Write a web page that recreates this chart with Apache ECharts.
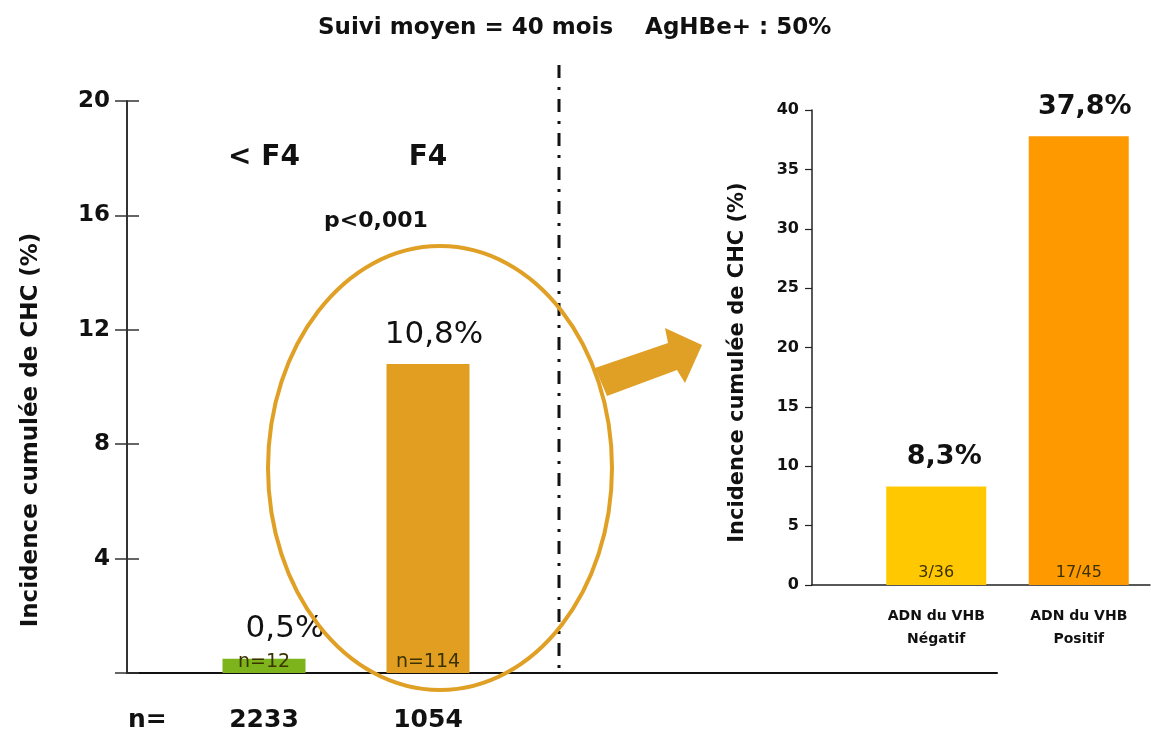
<!DOCTYPE html>
<html>
<head>
<meta charset="utf-8">
<script src="https://cdn.jsdelivr.net/npm/echarts@6/dist/echarts.min.js"></script>
<style>
  html, body { margin: 0; padding: 0; background: #fff; }
  #chart { width: 1151px; height: 733px; }
</style>
</head>
<body>
<div id="chart"></div>
<script>
// ---- data ----
const titleText = 'Suivi moyen = 40 mois    AgHBe+ : 50%';
const leftCategories = ['< F4', 'F4'];
const leftValues = [0.5, 10.8];
const leftCases = ['n=12', 'n=114'];
const leftTotals = ['2233', '1054'];
const leftAxisMin = 0, leftAxisMax = 20, leftAxisStep = 4;
const rightCategories = ['Négatif', 'Positif'];
const rightValues = [8.3, 37.8];
const rightCases = ['3/36', '17/45'];
const rightAxisMin = 0, rightAxisMax = 40, rightAxisStep = 5;
const axisTitle = 'Incidence cumulée de CHC (%)';
const pValueText = 'p<0,001';
const nLabel = 'n=';

// ---- styles ----
const FONT = 'DejaVu Sans';
const leftColors = ['#7DB41B', '#E19E20'];
const rightColors = ['#FFC800', '#FF9900'];
const pct = v => String(v).replace('.', ',') + '%';

const chart = echarts.init(document.getElementById('chart'), null, { renderer: 'canvas' });

const option = {
  backgroundColor: '#ffffff',
  animation: false,
  textStyle: { fontFamily: FONT },
  title: {
    text: titleText,
    left: 313, top: 12,
    textStyle: { fontFamily: FONT, fontSize: 23, fontWeight: 'bold', color: '#111' }
  },
  grid: [
    { left: 127, top: 101, width: 870, height: 572 },   // left axes frame
    { left: 182, top: 101, width: 328, height: 572 },   // left bars
    { left: 812, top: 110, width: 338, height: 475 },   // right axes frame
    { left: 865, top: 110, width: 285, height: 475 }    // right bars
  ],
  xAxis: [
    { gridIndex: 0, type: 'category', data: [''],
      axisLine: { lineStyle: { color: '#111', width: 2 } },
      axisTick: { show: false }, axisLabel: { show: false } },
    { gridIndex: 1, type: 'category', data: leftCategories, position: 'bottom',
      axisLine: { show: false }, axisTick: { show: false },
      axisLabel: { formatter: (v, i) => leftTotals[i], margin: 35,
        fontFamily: FONT, fontSize: 25, fontWeight: 'bold', color: '#111' } },
    { gridIndex: 1, type: 'category', data: leftCategories, position: 'top',
      axisLine: { show: false }, axisTick: { show: false },
      axisLabel: { inside: true, margin: 43,
        fontFamily: FONT, fontSize: 28, fontWeight: 'bold', color: '#111' } },
    { gridIndex: 2, type: 'category', data: [''],
      axisLine: { lineStyle: { color: '#222', width: 1.5 } },
      axisTick: { show: false }, axisLabel: { show: false } },
    { gridIndex: 3, type: 'category', data: rightCategories,
      axisLine: { show: false }, axisTick: { show: false },
      axisLabel: { formatter: v => 'ADN du VHB\n' + v, margin: 20, lineHeight: 23,
        fontFamily: FONT, fontSize: 14, fontWeight: 'bold', color: '#111' } }
  ],
  yAxis: [
    { gridIndex: 0, type: 'value', min: leftAxisMin, max: leftAxisMax, interval: leftAxisStep,
      splitLine: { show: false },
      axisLine: { show: true, lineStyle: { color: '#333', width: 2 } },
      axisTick: { show: true, length: 12, lineStyle: { color: '#333', width: 1.5 } },
      axisLabel: { formatter: v => v === 0 ? '' : v, margin: 17,
        fontFamily: FONT, fontSize: 23, fontWeight: 'bold', color: '#111' },
      name: axisTitle, nameLocation: 'middle', nameGap: 84,
      nameTextStyle: { fontFamily: FONT, fontSize: 23, fontWeight: 'bold', color: '#111',
        padding: [0, 86, 0, 0] } },
    { gridIndex: 1, type: 'value', min: leftAxisMin, max: leftAxisMax, interval: leftAxisStep,
      offset: 55, splitLine: { show: false }, axisLine: { show: false },
      axisTick: { show: true, inside: true, length: 12, lineStyle: { color: '#333', width: 1.5 } },
      axisLabel: { show: false } },
    { gridIndex: 2, type: 'value', min: rightAxisMin, max: rightAxisMax, interval: rightAxisStep,
      splitLine: { show: false },
      axisLine: { show: true, lineStyle: { color: '#222', width: 1.5 } },
      axisTick: { show: true, length: 7, lineStyle: { color: '#222', width: 1.2 } },
      axisLabel: { margin: 13, fontFamily: FONT, fontSize: 16, fontWeight: 'bold', color: '#111' },
      name: axisTitle, nameLocation: 'middle', nameGap: 64,
      nameTextStyle: { fontFamily: FONT, fontSize: 21, fontWeight: 'bold', color: '#111',
        padding: [0, 30, 0, 0] } },
    { gridIndex: 3, type: 'value', min: rightAxisMin, max: rightAxisMax, show: false }
  ],
  series: [
    { type: 'bar', xAxisIndex: 1, yAxisIndex: 1, barWidth: 83, barGap: '-100%',
      data: leftValues.map((v, i) => ({ value: v, itemStyle: { color: leftColors[i] },
        label: i === 0 ? { offset: [21, 0] } : { offset: [6, 0] } })),
      label: { show: true, position: 'top', distance: 14, formatter: p => pct(p.value),
        fontFamily: FONT, fontSize: 31, color: '#111' } },
    { type: 'bar', xAxisIndex: 1, yAxisIndex: 1, barWidth: 83, barGap: '-100%', silent: true,
      data: leftValues, itemStyle: { color: 'rgba(0,0,0,0)' },
      label: { show: true, position: 'insideBottom', distance: 1,
        formatter: p => leftCases[p.dataIndex],
        fontFamily: FONT, fontSize: 19, color: '#3a3200' } },
    { type: 'bar', xAxisIndex: 4, yAxisIndex: 3, barWidth: 100, barGap: '-100%',
      data: rightValues.map((v, i) => ({ value: v, itemStyle: { color: rightColors[i] },
        label: i === 0 ? { offset: [8, 0] } : { offset: [6, 0] } })),
      label: { show: true, position: 'top', distance: 16, formatter: p => pct(p.value),
        fontFamily: FONT, fontSize: 27, fontWeight: 'bold', color: '#111' } },
    { type: 'bar', xAxisIndex: 4, yAxisIndex: 3, barWidth: 100, barGap: '-100%', silent: true,
      data: rightValues, itemStyle: { color: 'rgba(0,0,0,0)' },
      label: { show: true, position: 'insideBottom', distance: 4,
        formatter: p => rightCases[p.dataIndex],
        fontFamily: FONT, fontSize: 16, color: '#3a3200' } }
  ],
  graphic: [
    { type: 'line', z: 50, shape: { x1: 559, y1: 65, x2: 559, y2: 673 },
      style: { stroke: '#111', lineWidth: 3, lineDash: [13, 9, 3, 9] } },
    { type: 'ellipse', z: 60, shape: { cx: 440, cy: 468, rx: 172, ry: 222 },
      style: { fill: null, stroke: '#E0A025', lineWidth: 4 } },
    { type: 'polygon', z: 60,
      shape: { points: [[595, 368], [668, 343], [665, 328], [702, 345], [685, 383], [677, 370], [607, 396]] },
      style: { fill: '#E0A025' } },
    { type: 'text', z: 70, x: 376, y: 221,
      style: { text: pValueText, align: 'center', verticalAlign: 'middle',
        font: 'bold 22px ' + FONT, fill: '#111' } },
    { type: 'text', z: 70, x: 128, y: 720,
      style: { text: nLabel, align: 'left', verticalAlign: 'middle',
        font: 'bold 25px ' + FONT, fill: '#111' } }
  ]
};
chart.setOption(option);
</script>
</body>
</html>
